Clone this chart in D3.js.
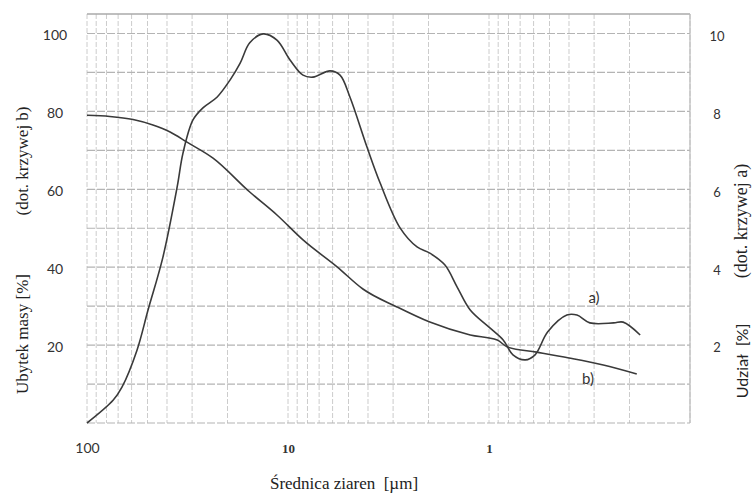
<!DOCTYPE html>
<html>
<head>
<meta charset="utf-8">
<script src="https://cdn.jsdelivr.net/npm/d3@7"></script>
<style>
  body { margin: 0; background: #fff; }
  svg { display: block; }
</style>
</head>
<body>
<svg id="chart" width="755" height="495"></svg>
<script>
// grain diameter [um] and mass loss [%] - curve b (left axis)
const diamB = [100, 77, 59, 47, 38.6, 31.8, 23.6, 15.5, 11.35, 8.42, 5.7, 4.24, 2.87, 1.97, 1.24, 0.91, 0.81, 0.58, 0.4, 0.27, 0.184];
const lossB = [79.0, 78.7, 77.9, 76.5, 74.7, 72.1, 68.0, 59.3, 53.4, 47.0, 40.1, 34.4, 29.8, 25.9, 22.6, 21.3, 19.5, 18.2, 16.7, 14.9, 12.6];

// grain diameter [um] and share [%] - curve a (right axis)
const diamA = [100, 74, 67, 56.4, 49.7, 41.9, 35.6, 33.3, 29.7, 26.5, 22.5, 19.4, 17.3, 15.5, 13.3, 11.35, 9.77, 8.42,
               7.51, 6.18, 5.51, 4.92, 4.05, 3.48, 2.77, 2.28, 1.97, 1.66, 1.44, 1.24, 0.99, 0.85, 0.76, 0.66, 0.59,
               0.51, 0.41, 0.365, 0.315, 0.24, 0.215, 0.177];
const shareA = [0, 0.59, 0.92, 1.87, 2.9, 4.26, 6.06, 6.93, 7.78, 8.09, 8.37, 8.81, 9.24, 9.76, 9.99, 9.83, 9.32, 8.93,
                8.88, 9.04, 8.93, 8.37, 7.09, 6.16, 5.01, 4.52, 4.36, 4.06, 3.49, 2.9, 2.44, 2.13, 1.75, 1.62, 1.75,
                2.34, 2.77, 2.77, 2.57, 2.57, 2.59, 2.26];

// tick labels
const xTickVals = [100, 10, 1];
const yLeftTicks = [20, 40, 60, 80, 100];
const yRightTicks = [2, 4, 6, 8, 10];
const hGridVals = [0, 10, 20, 30, 40, 50, 60, 70, 80, 90, 100];

const svg = d3.select('#chart');

// scales - x is log and reversed (big grains on the left)
let x = d3.scaleLog().domain([100, 0.1]).range([87, 690]);
let yL = d3.scaleLinear().domain([0, 105]).range([423, 14]);
let yR = d3.scaleLinear().domain([0, 10.5]).range([423, 14]);

// grid
let grid = svg.append('g').attr('id', 'grid');
grid.selectAll('line.v')
    .data(x.ticks())
    .enter()
        .append('line')
        .attr('class', 'v')
        .attr('x1', d => x(d)).attr('x2', d => x(d))
        .attr('y1', yL(105)).attr('y2', yL(0))
        .attr('stroke', '#cccccc')
        .attr('stroke-width', 1)
        .attr('stroke-dasharray', '5,2');
grid.selectAll('line.h')
    .data(hGridVals)
    .enter()
        .append('line')
        .attr('class', 'h')
        .attr('x1', x(100)).attr('x2', x(0.1))
        .attr('y1', d => yL(d)).attr('y2', d => yL(d))
        .attr('stroke', '#b4b4b4')
        .attr('stroke-width', 1.2)
        .attr('stroke-dasharray', '8,2');

// frame top and right
grid.append('line')
    .attr('x1', x(100)).attr('x2', x(0.1))
    .attr('y1', yL(105)).attr('y2', yL(105))
    .attr('stroke', '#aaa').attr('stroke-width', 1.5);
grid.append('line')
    .attr('x1', x(0.1)).attr('x2', x(0.1))
    .attr('y1', yL(105)).attr('y2', yL(0))
    .attr('stroke', '#bbb').attr('stroke-width', 1.2);

// axes - only labels, no lines
let yAxisL = svg.append('g')
    .attr('transform', 'translate(' + 55 + ',0)')
    .call(d3.axisLeft(yL).tickValues(yLeftTicks).tickSize(0).tickPadding(0));
yAxisL.select('.domain').remove();
yAxisL.selectAll('text')
    .attr('text-anchor', 'middle')
    .attr('dy', '0.45em')
    .style('font-family', 'Lato, sans-serif')
    .style('font-size', '14px')
    .style('fill', '#333');

let yAxisR = svg.append('g')
    .attr('transform', 'translate(' + 717 + ',1)')
    .call(d3.axisRight(yR).tickValues(yRightTicks).tickSize(0).tickPadding(0));
yAxisR.select('.domain').remove();
yAxisR.selectAll('text')
    .attr('text-anchor', 'middle')
    .attr('dy', '0.45em')
    .style('font-family', 'Lato, sans-serif')
    .style('font-size', '13px')
    .style('fill', '#333');

let xAxis = svg.append('g')
    .attr('transform', 'translate(0,' + 448 + ')')
    .call(d3.axisBottom(x).tickValues(xTickVals).tickFormat(d3.format('d')).tickSize(0).tickPadding(0));
xAxis.select('.domain').remove();
xAxis.selectAll('text')
    .attr('dy', '0.35em')
    .style('font-family', (d) => d == 100 ? 'Lato, sans-serif' : '"Liberation Serif", serif')
    .style('font-size', (d) => d == 100 ? '14px' : '13px')
    .style('font-weight', (d) => d == 100 ? 'normal' : 'bold')
    .style('fill', '#333');

// curves - b is monotone, a has bumps
let lineB = d3.line()
    .x((d, i) => x(diamB[i]))
    .y(d => yL(d))
    .curve(d3.curveMonotoneX);
let lineA = d3.line()
    .x((d, i) => x(diamA[i]))
    .y(d => yR(d))
    .curve(d3.curveCatmullRom.alpha(0.5));

svg.append('path')
    .attr('d', lineB(lossB))
    .attr('fill', 'none')
    .attr('stroke', '#3a3a3a')
    .attr('stroke-width', 1.6);
svg.append('path')
    .attr('d', lineA(shareA))
    .attr('fill', 'none')
    .attr('stroke', '#3a3a3a')
    .attr('stroke-width', 1.6);

// curve labels
svg.append('text')
    .attr('x', 594).attr('y', 303)
    .style('text-anchor', 'middle')
    .style('font-family', 'Lato, sans-serif')
    .style('font-size', '15px')
    .style('fill', '#333')
    .text('a)');
svg.append('text')
    .attr('x', 588).attr('y', 384)
    .style('text-anchor', 'middle')
    .style('font-family', 'Lato, sans-serif')
    .style('font-size', '15px')
    .style('fill', '#333')
    .text('b)');

// axis titles
svg.append('text')
    .attr('x', 344).attr('y', 489)
    .style('text-anchor', 'middle')
    .style('white-space', 'pre')
    .style('font-family', '"Liberation Serif", serif')
    .style('font-size', '17px')
    .style('fill', '#222')
    .text('Średnica ziaren  [µm]');

svg.append('text')
    .attr('transform', 'translate(28,334) rotate(-90)')
    .style('text-anchor', 'middle')
    .style('font-family', '"Liberation Serif", serif')
    .style('font-size', '17px')
    .style('fill', '#222')
    .text('Ubytek masy [%]');
svg.append('text')
    .attr('transform', 'translate(28,161) rotate(-90)')
    .style('text-anchor', 'middle')
    .style('font-family', '"Liberation Serif", serif')
    .style('font-size', '17px')
    .style('fill', '#222')
    .text('(dot. krzywej b)');

svg.append('text')
    .attr('transform', 'translate(748,361) rotate(-90)')
    .style('text-anchor', 'middle')
    .style('white-space', 'pre')
    .style('font-family', 'Lato, sans-serif')
    .style('font-size', '16px')
    .style('fill', '#222')
    .text('Udział  [%]');
svg.append('text')
    .attr('transform', 'translate(747,221) rotate(-90)')
    .style('text-anchor', 'middle')
    .style('font-family', '"Liberation Serif", serif')
    .style('font-size', '18px')
    .style('fill', '#222')
    .text('(dot. krzywej a)');
</script>
</body>
</html>
